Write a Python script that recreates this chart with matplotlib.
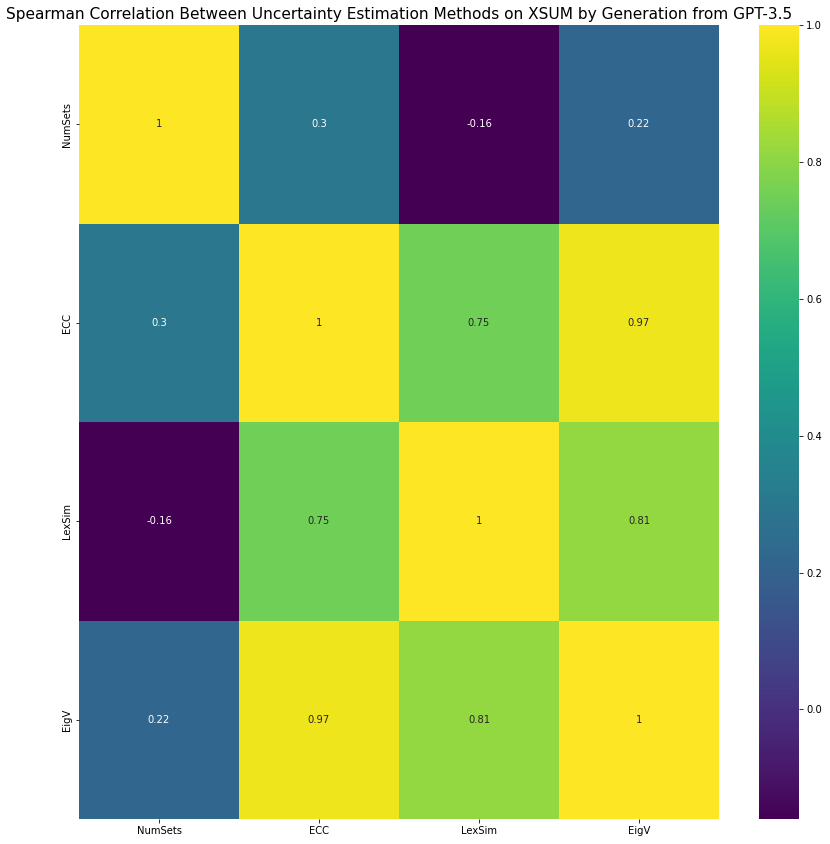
import numpy as np
import matplotlib
matplotlib.use("Agg")
import matplotlib.pyplot as plt
import seaborn as sns

methods = ["NumSets", "ECC", "LexSim", "EigV"]
row_numsets = [1.0, 0.3, -0.16, 0.22]
row_ecc = [0.3, 1.0, 0.75, 0.97]
row_lexsim = [-0.16, 0.75, 1.0, 0.81]
row_eigv = [0.22, 0.97, 0.81, 1.0]
title = "Spearman Correlation Between Uncertainty Estimation Methods on XSUM by Generation from GPT-3.5"

corr = np.array([row_numsets, row_ecc, row_lexsim, row_eigv])

dpi = 72
fig = plt.figure(figsize=(830 / dpi, 844 / dpi), dpi=dpi)
W, H = 830, 844
ax = fig.add_axes([79 / W, (H - 819) / H, 640 / W, 794 / H])
cax = fig.add_axes([759 / W, (H - 819) / H, 40 / W, 794 / H])

sns.heatmap(corr, annot=True, cmap="viridis", xticklabels=methods,
            yticklabels=methods, ax=ax, cbar_ax=cax,
            annot_kws={"fontsize": 10})
ax.set_title(title, fontsize=15.4)
ax.tick_params(labelsize=10)
cax.tick_params(labelsize=10)
fig.savefig("out.png", dpi=dpi)
